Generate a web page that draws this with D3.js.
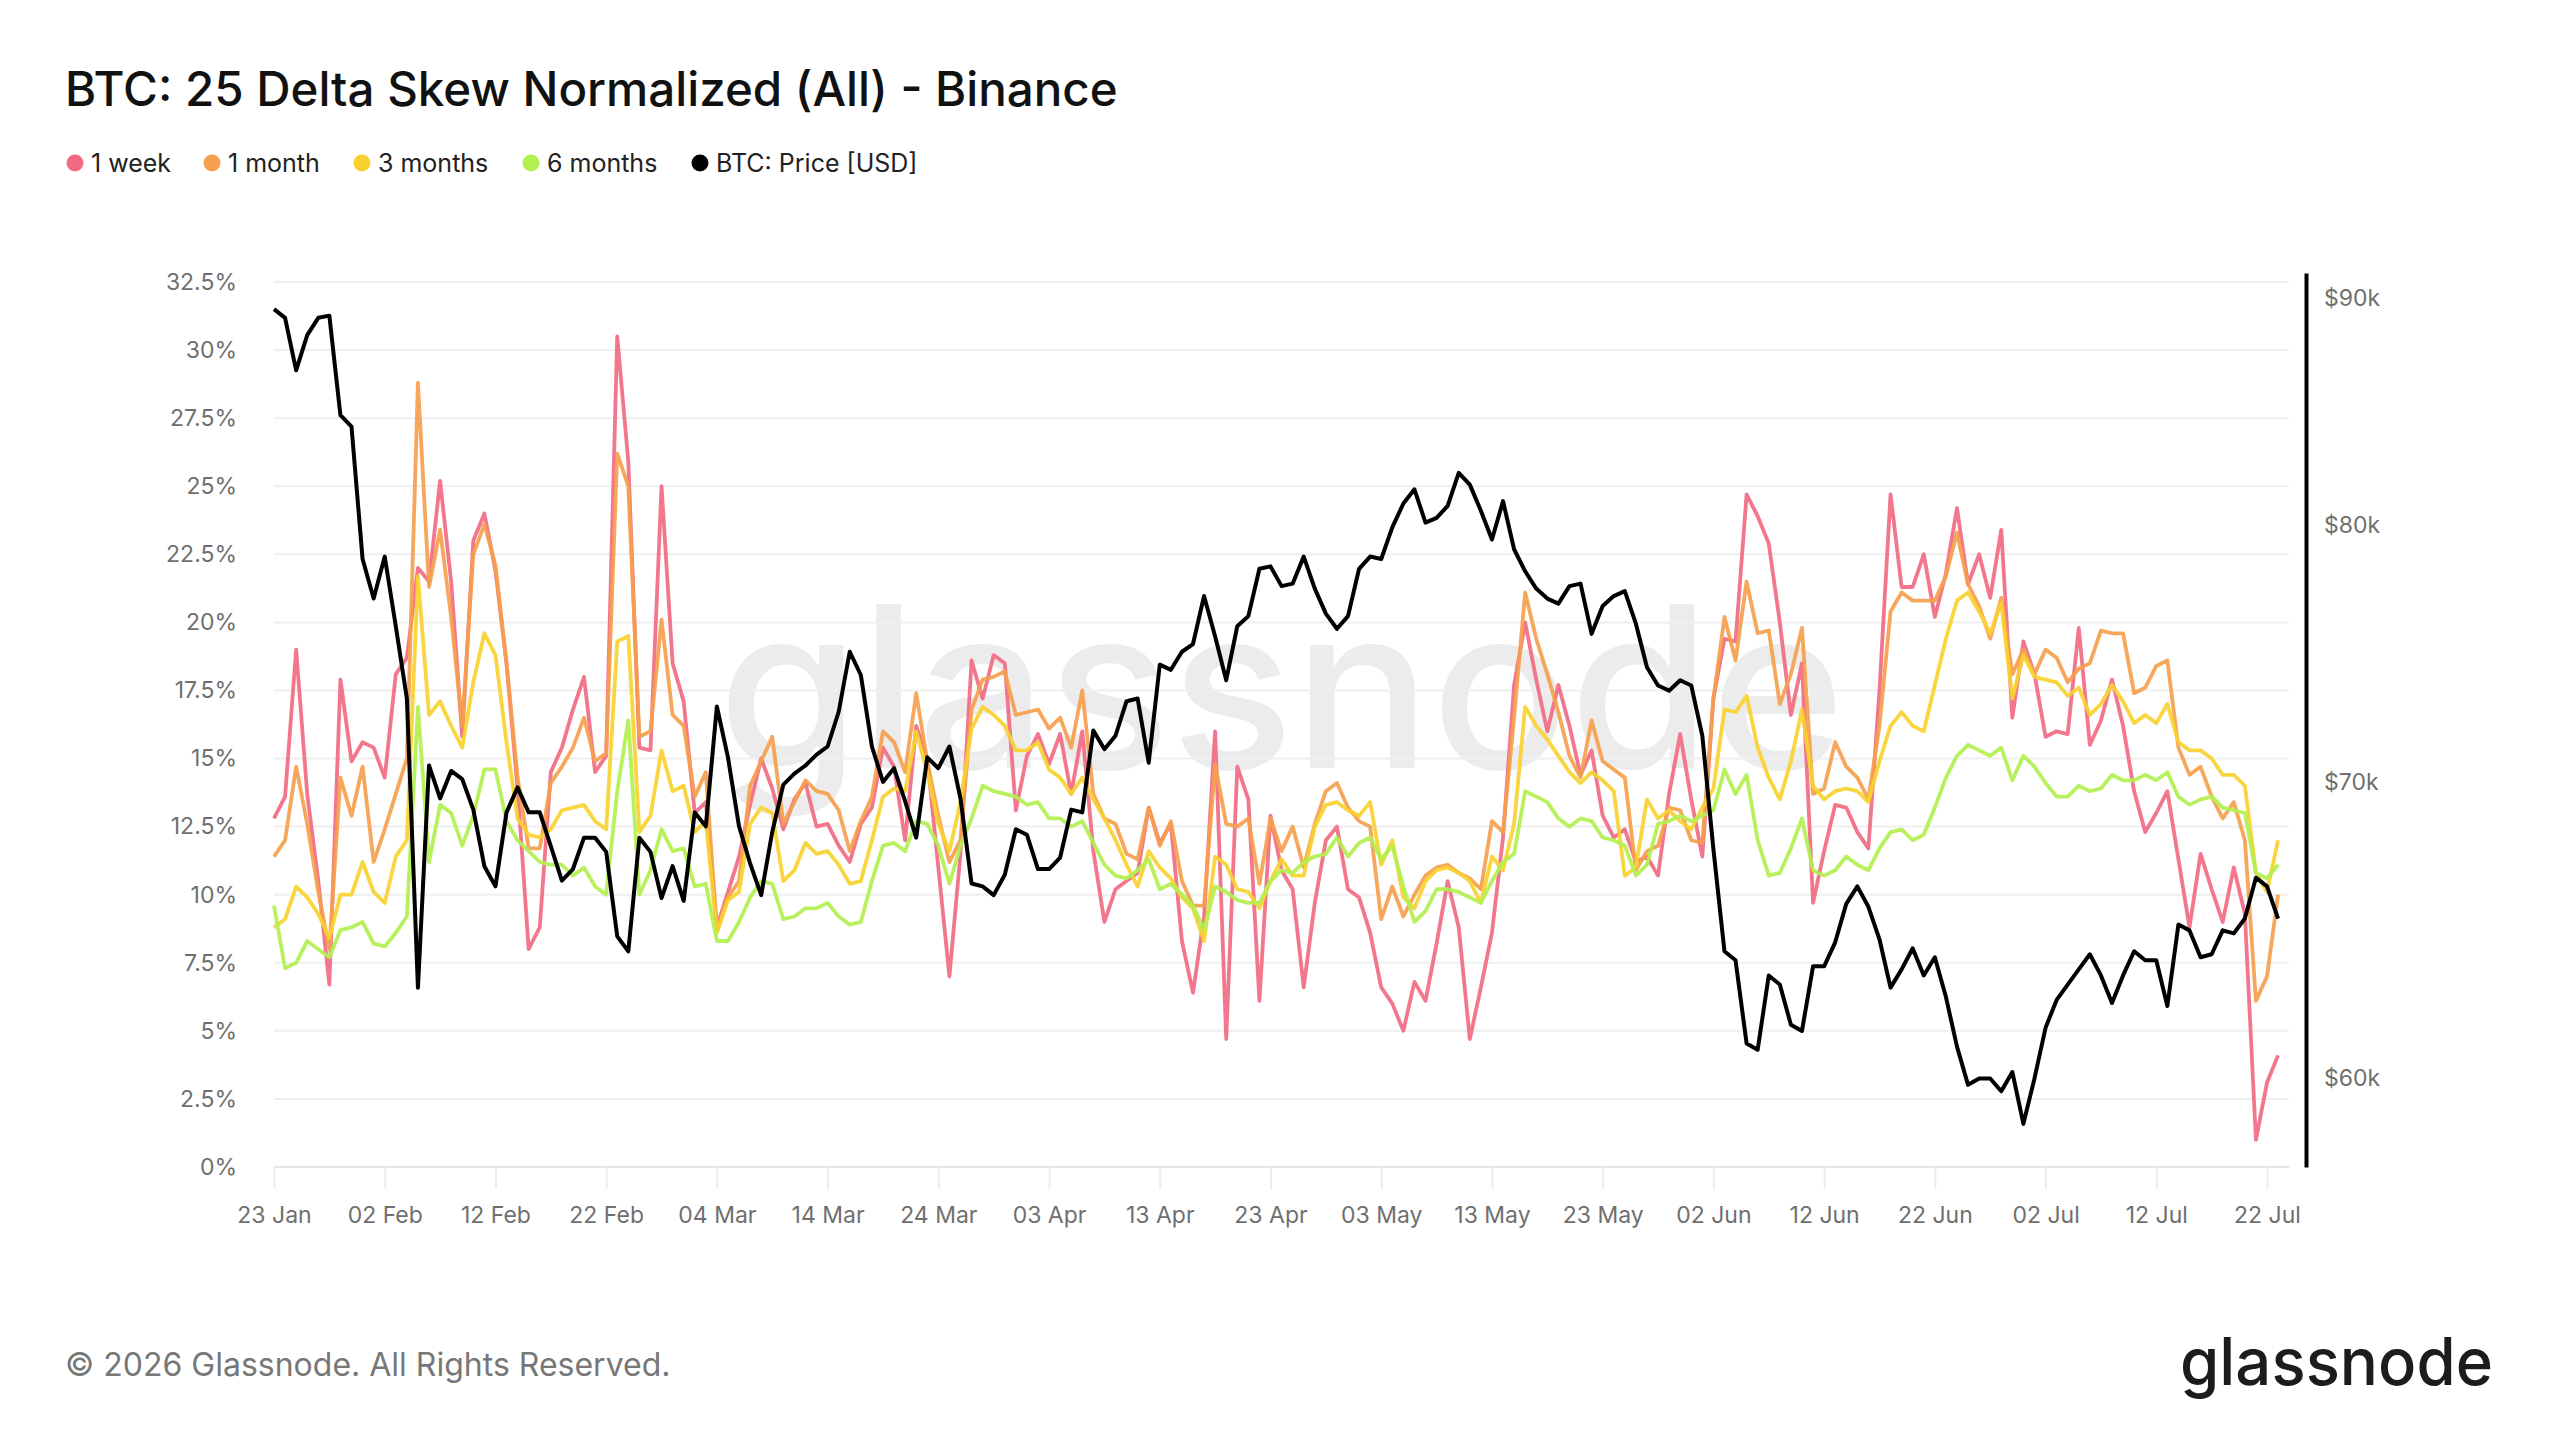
<!DOCTYPE html>
<html>
<head>
<meta charset="utf-8">
<script src="https://cdn.jsdelivr.net/npm/d3@7"></script>
<style>
  body { margin: 0; background: #fff; }
  svg { font-family: Inter, "Noto Sans", sans-serif; display: block; }
</style>
</head>
<body>
<script>
// daily values, first day 23 Jan 2026
const firstDay = "2026-01-23";
const seriesNames = ["1 week", "1 month", "3 months", "6 months", "BTC: Price [USD]"];
const seriesColors = ["#f26b82", "#f6a04d", "#f8d12f", "#b2f04f", "#000000"];

const oneWeek = [
  12.8, 13.6, 19.0, 13.7, 10.5, 6.7, 17.9, 14.9, 15.6, 15.4,
  14.3, 18.1, 18.7, 22.0, 21.5, 25.2, 21.5, 15.8, 23.0, 24.0,
  21.9, 18.5, 13.9, 8.0, 8.8, 14.5, 15.4, 16.8, 18.0, 14.5,
  15.1, 30.5, 25.9, 15.4, 15.3, 25.0, 18.5, 17.1, 13.0, 13.4,
  8.8, 10.1, 11.4, 13.3, 15.0, 13.9, 12.4, 13.5, 14.1, 12.5,
  12.6, 11.8, 11.2, 12.6, 13.2, 15.4, 14.7, 12.0, 16.2, 15.0,
  11.0, 7.0, 11.5, 18.6, 17.2, 18.8, 18.5, 13.1, 15.1, 15.9,
  14.8, 15.9, 13.7, 16.0, 11.6, 9.0, 10.2, 10.5, 10.8, 13.2,
  11.9, 12.6, 8.3, 6.4, 9.2, 16.0, 4.7, 14.7, 13.5, 6.1,
  12.9, 10.9, 10.2, 6.6, 9.7, 12.0, 12.5, 10.2, 9.9, 8.6,
  6.6, 6.0, 5.0, 6.8, 6.1, 8.2, 10.5, 8.8, 4.7, 6.6,
  8.6, 12.1, 17.7, 20.0, 17.9, 16.0, 17.7, 16.2, 14.4, 15.3,
  12.9, 12.1, 12.4, 11.2, 11.4, 10.7, 13.7, 15.9, 13.5, 11.4,
  17.2, 19.4, 19.3, 24.7, 23.9, 22.9, 20.0, 16.6, 18.5, 9.7,
  11.6, 13.3, 13.2, 12.3, 11.7, 17.5, 24.7, 21.3, 21.3, 22.5,
  20.2, 21.8, 24.2, 21.4, 22.5, 20.9, 23.4, 16.5, 19.3, 18.1,
  15.8, 16.0, 15.9, 19.8, 15.5, 16.4, 17.9, 16.2, 13.8, 12.3,
  13.0, 13.8, 11.3, 8.8, 11.5, 10.2, 9.0, 11.0, 9.3, 1.0,
  3.1, 4.1
];

const oneMonth = [
  11.4, 12.0, 14.7, 12.6, 10.1, 8.0, 14.3, 12.9, 14.7, 11.2,
  12.4, 13.7, 15.0, 28.8, 21.3, 23.4, 20.2, 16.2, 22.5, 23.6,
  22.1, 18.5, 14.3, 11.7, 11.7, 14.1, 14.7, 15.4, 16.5, 14.9,
  15.2, 26.2, 25.0, 15.8, 16.0, 20.1, 16.6, 16.2, 13.6, 14.5,
  8.7, 9.9, 10.5, 14.0, 14.9, 15.8, 12.6, 13.4, 14.2, 13.8,
  13.7, 13.1, 11.6, 12.7, 13.6, 16.0, 15.6, 14.5, 17.4, 14.9,
  12.9, 11.2, 12.0, 16.8, 17.9, 18.0, 18.2, 16.6, 16.7, 16.8,
  16.1, 16.5, 15.4, 17.5, 13.7, 12.8, 12.6, 11.5, 11.3, 13.2,
  11.8, 12.7, 10.5, 9.6, 9.6, 14.8, 12.6, 12.5, 12.8, 10.4,
  12.8, 11.6, 12.5, 11.0, 12.6, 13.8, 14.1, 13.2, 12.7, 12.5,
  9.1, 10.3, 9.2, 10.0, 10.7, 11.0, 11.1, 10.8, 10.6, 10.2,
  12.7, 12.3, 16.5, 21.1, 19.4, 18.1, 16.7, 15.1, 14.3, 16.4,
  14.9, 14.6, 14.3, 10.9, 11.6, 11.8, 13.2, 13.1, 12.0, 11.9,
  17.2, 20.2, 18.6, 21.5, 19.6, 19.7, 17.0, 18.1, 19.8, 13.7,
  13.9, 15.6, 14.7, 14.3, 13.5, 16.2, 20.4, 21.1, 20.8, 20.8,
  20.8, 21.7, 23.3, 21.4, 20.6, 19.4, 20.9, 18.1, 19.0, 18.1,
  19.0, 18.7, 17.8, 18.3, 18.5, 19.7, 19.6, 19.6, 17.4, 17.6,
  18.4, 18.6, 15.4, 14.4, 14.7, 13.6, 12.8, 13.4, 12.0, 6.1,
  7.0, 10.0
];

const threeMonths = [
  8.8, 9.1, 10.3, 9.9, 9.3, 8.4, 10.0, 10.0, 11.2, 10.1,
  9.7, 11.4, 12.0, 21.7, 16.6, 17.1, 16.2, 15.4, 17.8, 19.6,
  18.8, 15.6, 12.8, 12.2, 12.1, 12.4, 13.1, 13.2, 13.3, 12.7,
  12.4, 19.3, 19.5, 12.3, 12.9, 15.3, 13.8, 14.0, 12.3, 12.7,
  8.6, 9.8, 10.1, 12.6, 13.2, 13.0, 10.5, 10.9, 11.9, 11.5,
  11.6, 11.1, 10.4, 10.5, 12.0, 13.6, 13.9, 13.8, 16.0, 14.5,
  12.6, 11.6, 13.4, 16.1, 16.9, 16.6, 16.2, 15.3, 15.3, 15.6,
  14.6, 14.3, 13.7, 14.3, 13.5, 12.8, 12.0, 11.1, 10.3, 11.6,
  11.0, 10.6, 9.9, 9.5, 8.3, 11.4, 11.1, 10.2, 10.1, 9.5,
  10.5, 11.3, 10.7, 10.7, 12.5, 13.3, 13.4, 13.1, 12.9, 13.4,
  11.1, 12.0, 9.9, 9.5, 10.5, 10.9, 11.0, 10.8, 10.5, 9.7,
  11.4, 10.9, 12.6, 16.9, 16.2, 15.7, 15.1, 14.5, 14.1, 14.5,
  14.2, 13.8, 10.7, 11.0, 13.5, 12.8, 13.1, 12.7, 12.4, 13.2,
  13.9, 16.8, 16.7, 17.3, 15.4, 14.3, 13.5, 14.9, 16.8, 14.0,
  13.5, 13.8, 13.9, 13.8, 13.4, 14.9, 16.2, 16.7, 16.2, 16.0,
  17.7, 19.4, 20.8, 21.1, 20.4, 19.6, 20.7, 17.2, 18.8, 18.0,
  17.9, 17.8, 17.3, 17.6, 16.6, 17.0, 17.7, 17.1, 16.3, 16.6,
  16.3, 17.0, 15.6, 15.3, 15.3, 15.0, 14.4, 14.4, 14.0, 10.8,
  10.1, 12.0
];

const sixMonths = [
  9.6, 7.3, 7.5, 8.3, 8.0, 7.7, 8.7, 8.8, 9.0, 8.2,
  8.1, 8.6, 9.2, 16.9, 11.2, 13.3, 13.0, 11.8, 12.9, 14.6,
  14.6, 12.7, 12.0, 11.6, 11.2, 11.1, 11.1, 10.7, 11.0, 10.3,
  10.0, 13.8, 16.4, 10.0, 10.9, 12.4, 11.6, 11.7, 10.3, 10.4,
  8.3, 8.3, 9.0, 9.9, 10.5, 10.4, 9.1, 9.2, 9.5, 9.5,
  9.7, 9.2, 8.9, 9.0, 10.5, 11.8, 11.9, 11.6, 12.7, 12.6,
  11.8, 10.4, 11.8, 12.8, 14.0, 13.8, 13.7, 13.6, 13.3, 13.4,
  12.8, 12.8, 12.5, 12.7, 11.9, 11.1, 10.7, 10.6, 10.9, 11.3,
  10.2, 10.4, 10.0, 9.6, 8.7, 10.3, 10.1, 9.8, 9.7, 9.7,
  10.5, 10.9, 10.8, 11.2, 11.4, 11.5, 12.1, 11.4, 11.9, 12.1,
  11.3, 11.8, 10.3, 9.0, 9.4, 10.2, 10.2, 10.1, 9.9, 9.7,
  10.5, 11.2, 11.5, 13.8, 13.6, 13.4, 12.8, 12.5, 12.8, 12.7,
  12.1, 12.0, 11.8, 10.7, 11.1, 12.6, 12.7, 12.9, 12.7, 12.9,
  13.1, 14.6, 13.7, 14.4, 12.0, 10.7, 10.8, 11.7, 12.8, 10.9,
  10.7, 10.9, 11.4, 11.1, 10.9, 11.7, 12.3, 12.4, 12.0, 12.2,
  13.2, 14.3, 15.1, 15.5, 15.3, 15.1, 15.4, 14.2, 15.1, 14.7,
  14.1, 13.6, 13.6, 14.0, 13.8, 13.9, 14.4, 14.2, 14.2, 14.4,
  14.2, 14.5, 13.6, 13.3, 13.5, 13.6, 13.2, 13.1, 13.0, 10.8,
  10.6, 11.1
];

const btcPrice = [
  89500, 89100, 86700, 88300, 89100, 89200, 84700, 84200, 78600, 77000,
  78700, 75900, 73100, 62900, 70600, 69400, 70400, 70100, 69000, 67000,
  66300, 68900, 69800, 68900, 68900, 67700, 66500, 66900, 68000, 68000,
  67500, 64600, 64100, 68000, 67500, 65900, 67000, 65800, 68900, 68400,
  72800, 70900, 68400, 67100, 66000, 68200, 69900, 70300, 70600, 71000,
  71300, 72600, 74900, 74000, 71300, 70000, 70500, 69300, 68000, 70900,
  70500, 71300, 69400, 66400, 66300, 66000, 66700, 68300, 68100, 66900,
  66900, 67300, 69000, 68900, 71900, 71200, 71700, 73000, 73100, 70700,
  74400, 74200, 74900, 75200, 77100, 75500, 73800, 75900, 76300, 78200,
  78300, 77500, 77600, 78700, 77400, 76400, 75800, 76300, 78200, 78700,
  78600, 79900, 80900, 81500, 80100, 80300, 80800, 82200, 81700, 80600,
  79400, 81000, 79000, 78100, 77400, 77000, 76800, 77500, 77600, 75600,
  76700, 77100, 77300, 76000, 74300, 73600, 73400, 73800, 73600, 71700,
  67600, 64100, 63800, 61100, 60900, 63300, 63000, 61700, 61500, 63600,
  63600, 64400, 65700, 66300, 65600, 64500, 62900, 63500, 64200, 63300,
  63900, 62600, 61000, 59800, 60000, 60000, 59600, 60200, 58600, 60000,
  61600, 62500, 63000, 63500, 64000, 63300, 62400, 63300, 64100, 63800,
  63800, 62300, 65000, 64800, 63900, 64000, 64800, 64700, 65200, 66600,
  66300, 65200
];

const pctTicks = [0, 2.5, 5, 7.5, 10, 12.5, 15, 17.5, 20, 22.5, 25, 27.5, 30, 32.5];
const priceTicks = [60000, 70000, 80000, 90000];

const W = 2560, H = 1440;
const plotLeft = 274, plotRight = 2267, plotTop = 282, plotBottom = 1167;

const start = d3.utcParse("%Y-%m-%d")(firstDay);
const dates = oneWeek.map((d, i) => d3.utcDay.offset(start, i));
const xTicks = d3.range(0, 181, 10).map(i => d3.utcDay.offset(start, i));

const svg = d3.select("body").append("svg").attr("width", W).attr("height", H);

const x = d3.scaleUtc().domain([start, d3.utcDay.offset(start, 180)]).range([plotLeft, plotRight]);
const y = d3.scaleLinear().domain([0, 32.5]).range([plotBottom, plotTop]);
const yPrice = d3.scaleLog().domain([57300, 91200]).range([plotBottom, 273]);

// title + legend
svg.append("text").attr("x", 65).attr("y", 106)
  .attr("font-size", 47.5).attr("font-weight", 500).attr("fill", "#111")
  .text("BTC: 25 Delta Skew Normalized (All) - Binance");

const legendX = [75, 212, 362, 531, 700];
const legend = svg.append("g");
seriesNames.forEach((name, i) => {
  legend.append("circle").attr("cx", legendX[i]).attr("cy", 163).attr("r", 8.5)
    .attr("fill", seriesColors[i]);
  legend.append("text").attr("x", legendX[i] + 16).attr("y", 172)
    .attr("font-size", 25).attr("fill", "#222").text(name);
});

// watermark
svg.append("text").attr("x", 718).attr("y", 768)
  .attr("font-size", 225).attr("font-weight", 500)
  .attr("textLength", 1127).attr("lengthAdjust", "spacingAndGlyphs")
  .attr("fill", "#000").attr("opacity", 0.07).text("glassnode");

// grid
svg.append("g").selectAll("line").data(pctTicks).enter().append("line")
  .attr("x1", plotLeft).attr("x2", 2289)
  .attr("y1", d => y(d)).attr("y2", d => y(d))
  .attr("stroke", d => d === 0 ? "#e4e4e4" : "#efefef").attr("stroke-width", 2);

// axes
const yAxis = svg.append("g").attr("transform", `translate(${plotLeft},0)`)
  .call(d3.axisLeft(y).tickValues(pctTicks).tickFormat(d => d + "%").tickSize(0).tickPadding(37));
yAxis.select(".domain").remove();

const xAxis = svg.append("g").attr("transform", `translate(0,${plotBottom})`)
  .call(d3.axisBottom(x).tickValues(xTicks).tickFormat(d3.utcFormat("%d %b")).tickSize(22).tickPadding(18));
xAxis.select(".domain").remove();
xAxis.selectAll(".tick line").attr("stroke", "#ececec").attr("stroke-width", 2);

const pAxis = svg.append("g").attr("transform", "translate(2306,0)")
  .call(d3.axisRight(yPrice).tickValues(priceTicks).tickFormat(d => "$" + d / 1000 + "k").tickSize(0).tickSizeOuter(0).tickPadding(18));
pAxis.select(".domain").attr("stroke", "#000").attr("stroke-width", 4);

svg.selectAll(".tick text").attr("font-size", 23).attr("fill", "#6f6f6f")
  .attr("font-family", "Inter, 'Noto Sans', sans-serif");

// lines
const skewLine = d3.line().x((d, i) => x(dates[i])).y(d => y(d));
const priceLine = d3.line().x((d, i) => x(dates[i])).y(d => yPrice(d));

[oneWeek, oneMonth, threeMonths, sixMonths].forEach((s, i) => {
  svg.append("path").datum(s).attr("d", skewLine)
    .attr("fill", "none").attr("stroke", seriesColors[i])
    .attr("stroke-width", 3.8).attr("stroke-linejoin", "round").attr("opacity", 0.92);
});
svg.append("path").datum(btcPrice).attr("d", priceLine)
  .attr("fill", "none").attr("stroke", "#000").attr("stroke-width", 4)
  .attr("stroke-linejoin", "round");

// footer
svg.append("text").attr("x", 65).attr("y", 1376)
  .attr("font-size", 32).attr("fill", "#777")
  .text("© 2026 Glassnode. All Rights Reserved.");
svg.append("text").attr("x", 2180).attr("y", 1385)
  .attr("font-size", 66).attr("font-weight", 500).attr("fill", "#1c1c1c")
  .attr("textLength", 313).attr("lengthAdjust", "spacingAndGlyphs")
  .text("glassnode");
</script>
</body>
</html>
